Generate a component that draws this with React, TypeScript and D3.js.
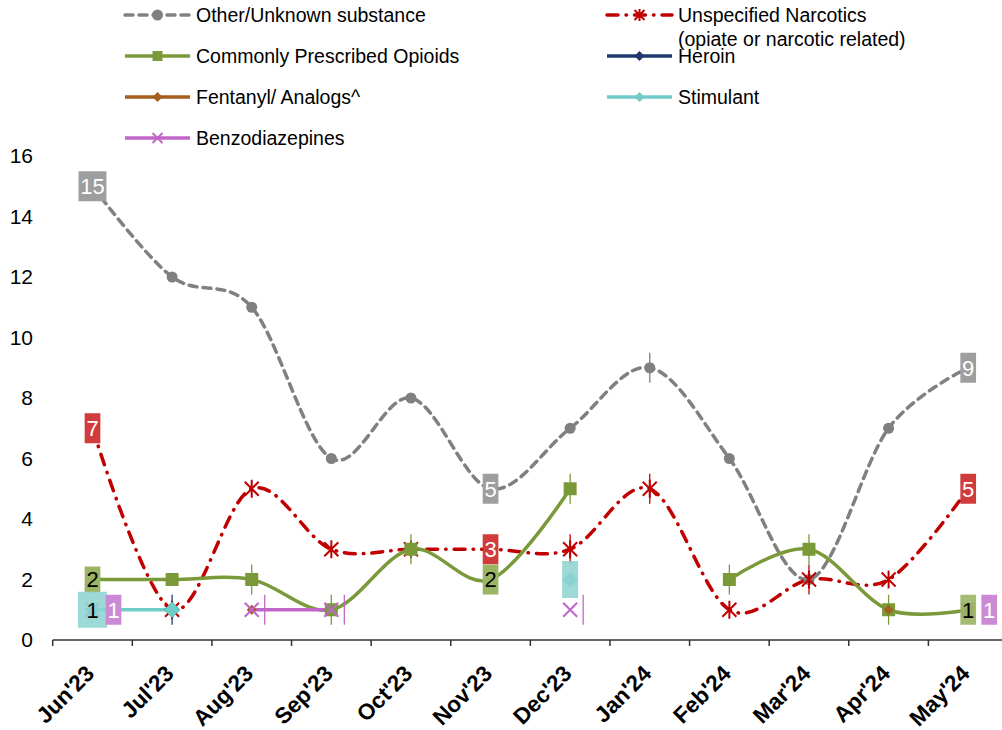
import React from 'react';
import * as d3 from 'd3';

const months = ["Jun'23", "Jul'23", "Aug'23", "Sep'23", "Oct'23", "Nov'23", "Dec'23", "Jan'24", "Feb'24", "Mar'24", "Apr'24", "May'24"];
const otherUnknown: (number | null)[] = [15, 12, 11, 6, 8, 5, 7, 9, 6, 2, 7, 9];
const unspecifiedNarcotics: (number | null)[] = [7, 1, 5, 3, 3, 3, 3, 5, 1, 2, 2, 5];
const prescribedOpioids: (number | null)[] = [2, 2, 2, 1, 3, 2, 5, null, 2, 3, 1, 1];
const heroin: (number | null)[] = [null, 1, null, null, null, null, null, null, null, null, null, null];
const fentanyl: (number | null)[] = [null, null, 1, null, null, null, null, null, null, null, 1, null];
const stimulant: (number | null)[] = [1, 1, null, null, null, null, 2, null, null, null, null, null];
const benzodiazepines: (number | null)[] = [1, null, 1, 1, null, null, 1, null, null, null, null, 1];
const yTicks = [0, 2, 4, 6, 8, 10, 12, 14, 16];

type Marker = 'circle' | 'star' | 'square' | 'diamond' | 'smallDiamond' | 'x' | 'smallX' | 'smallSquare' | 'smallStar';
interface Series {
  key: string;
  label: string[];
  values: (number | null)[];
  color: string;
  dash?: string;
  marker: Marker;
  legendMarker: Marker;
  whiskers: number[];
  whiskerDx?: number;
  legend: { x: number; y: number };
}

const series: Series[] = [
  { key: 'other', label: ['Other/Unknown substance'], values: otherUnknown, color: '#808080', dash: '8,6', marker: 'circle', legendMarker: 'circle', whiskers: [7], legend: { x: 125, y: 15 } },
  { key: 'unspec', label: ['Unspecified Narcotics', '(opiate or narcotic related)'], values: unspecifiedNarcotics, color: '#C00000', dash: '11,8,0.5,8', marker: 'star', legendMarker: 'smallStar', whiskers: [6, 7, 9], legend: { x: 607, y: 15 } },
  { key: 'opioid', label: ['Commonly Prescribed Opioids'], values: prescribedOpioids, color: '#7A9A3A', marker: 'square', legendMarker: 'smallSquare', whiskers: [2, 3, 4, 6, 8, 9, 10], legend: { x: 125, y: 56 } },
  { key: 'heroin', label: ['Heroin'], values: heroin, color: '#1F3A6E', marker: 'diamond', legendMarker: 'smallDiamond', whiskers: [1], legend: { x: 607, y: 56 } },
  { key: 'fent', label: ['Fentanyl/ Analogs^'], values: fentanyl, color: '#A65E1E', marker: 'smallDiamond', legendMarker: 'smallDiamond', whiskers: [], legend: { x: 125, y: 97 } },
  { key: 'stim', label: ['Stimulant'], values: stimulant, color: '#6FCCC6', marker: 'diamond', legendMarker: 'smallDiamond', whiskers: [], legend: { x: 607, y: 97 } },
  { key: 'benzo', label: ['Benzodiazepines'], values: benzodiazepines, color: '#C066C8', marker: 'x', legendMarker: 'smallX', whiskers: [2, 3, 6], whiskerDx: 13, legend: { x: 125, y: 138 } },
];

interface DataLabel { key: string; i: number; text: string; fill: string; textColor: string; dx?: number; w?: number; h?: number; opacity?: number; }
const dataLabels: DataLabel[] = [
  { key: 'other', i: 0, text: '15', fill: '#9E9E9E', textColor: '#fff' },
  { key: 'other', i: 5, text: '5', fill: '#9E9E9E', textColor: '#fff' },
  { key: 'other', i: 11, text: '9', fill: '#9E9E9E', textColor: '#fff' },
  { key: 'unspec', i: 0, text: '7', fill: '#D03C3C', textColor: '#fff' },
  { key: 'unspec', i: 5, text: '3', fill: '#D03C3C', textColor: '#fff' },
  { key: 'unspec', i: 11, text: '5', fill: '#D03C3C', textColor: '#fff' },
  { key: 'opioid', i: 0, text: '2', fill: '#9BB565', textColor: '#000', h: 26 },
  { key: 'opioid', i: 5, text: '2', fill: '#9BB565', textColor: '#000' },
  { key: 'opioid', i: 11, text: '1', fill: '#9BB565', textColor: '#000', opacity: 0.9 },
  { key: 'stim', i: 0, text: '1', fill: '#8ED4D1', textColor: '#000', w: 29, h: 36, opacity: 0.88 },
  { key: 'stim', i: 6, text: '', fill: '#8ED4D1', textColor: '#000', w: 16, h: 37, opacity: 0.88 },
  { key: 'benzo', i: 0, text: '1', fill: '#CB8BD4', textColor: '#fff', dx: 21 },
  { key: 'benzo', i: 11, text: '1', fill: '#CB8BD4', textColor: '#fff', dx: 21 },
];

const FONT = "'Liberation Sans', Arial, Helvetica, sans-serif";

function MarkerShape({ type, x, y, color }: { type: Marker; x: number; y: number; color: string }) {
  switch (type) {
    case 'circle':
      return <circle cx={x} cy={y} r={5.5} fill={color} />;
    case 'square':
      return <rect x={x - 6.5} y={y - 6.5} width={13} height={13} fill={color} />;
    case 'smallSquare':
      return <rect x={x - 5} y={y - 5} width={10} height={10} fill={color} />;
    case 'diamond':
      return <path d={`M${x},${y - 8}L${x + 8},${y}L${x},${y + 8}L${x - 8},${y}Z`} fill={color} />;
    case 'smallDiamond':
      return <path d={`M${x},${y - 5}L${x + 5},${y}L${x},${y + 5}L${x - 5},${y}Z`} fill={color} />;
    case 'x':
      return <path d={`M${x - 7},${y - 7}L${x + 7},${y + 7}M${x - 7},${y + 7}L${x + 7},${y - 7}`} stroke={color} strokeWidth={2} />;
    case 'smallX':
      return <path d={`M${x - 5},${y - 5}L${x + 5},${y + 5}M${x - 5},${y + 5}L${x + 5},${y - 5}`} stroke={color} strokeWidth={2} />;
    case 'star':
      return <path d={`M${x - 7},${y - 7}L${x + 7},${y + 7}M${x - 7},${y + 7}L${x + 7},${y - 7}M${x},${y - 9}L${x},${y + 9}`} stroke={color} strokeWidth={2} />;
    case 'smallStar':
      return <path d={`M${x - 5},${y - 5}L${x + 5},${y + 5}M${x - 5},${y + 5}L${x + 5},${y - 5}M${x},${y - 6}L${x},${y + 6}`} stroke={color} strokeWidth={2} />;
  }
}

export default function App() {
  const W = 1002, H = 730;
  const x = d3.scaleBand<string>().domain(months).range([52.7, 1008]).padding(0);
  const bw = x.bandwidth();
  const cx = (i: number) => (x(months[i]) as number) + bw / 2;
  const y = d3.scaleLinear().domain([0, 16]).range([640, 156]);

  const line = d3.line<number | null>()
    .defined((d) => d != null)
    .x((_, i) => cx(i))
    .y((d) => y(d as number))
    .curve(d3.curveCardinal.tension(0));

  const seriesByKey: Record<string, Series> = {};
  series.forEach((s) => (seriesByKey[s.key] = s));

  const tickXs = d3.range(months.length + 1).map((i) => 52.7 + i * bw);

  return (
    <svg width={W} height={H} style={{ position: 'absolute', left: 0, top: 0, background: '#fff' }} fontFamily={FONT}>
      {/* y tick labels */}
      {yTicks.map((t) => (
        <text key={t} x={33} y={y(t)} dy="0.35em" textAnchor="end" fontSize={21} fill="#000">{t}</text>
      ))}
      {/* x axis */}
      <line x1={52.7} x2={1008} y1={640} y2={640} stroke="#333" strokeWidth={1.5} />
      {tickXs.map((tx, i) => (
        <line key={i} x1={tx} x2={tx} y1={640} y2={646} stroke="#333" strokeWidth={1.5} />
      ))}
      {months.map((m, i) => (
        <text key={m} transform={`translate(${cx(i) + 3},675) rotate(-45)`} textAnchor="end" fontSize={22.5} fontWeight="bold" fill="#000">{m}</text>
      ))}

      {/* series lines */}
      {series.map((s) => (
        <path key={s.key} d={line(s.values) || ''} fill="none" stroke={s.color} strokeWidth={3.5}
          strokeDasharray={s.dash} strokeLinecap={s.dash ? 'round' : 'butt'} />
      ))}
      {/* whiskers and markers */}
      {series.map((s) => (
        <g key={s.key + 'm'}>
          {s.whiskers.map((i) => s.values[i] != null && (
            <line key={'w' + i} x1={cx(i) + (s.whiskerDx || 0)} x2={cx(i) + (s.whiskerDx || 0)}
              y1={y(s.values[i] as number) - 15} y2={y(s.values[i] as number) + 15}
              stroke={s.color} strokeWidth={1.3} />
          ))}
          {s.values.map((v, i) => v != null && (
            <MarkerShape key={i} type={s.marker} x={cx(i)} y={y(v)} color={s.color} />
          ))}
        </g>
      ))}

      {/* data labels */}
      {dataLabels.map((l, k) => {
        const s = seriesByKey[l.key];
        const v = s.values[l.i] as number;
        const px = cx(l.i) + (l.dx || 0);
        const py = y(v);
        const w = l.w ?? (l.text.length * 12.2 + 3.5);
        const h = l.h ?? 30;
        return (
          <g key={k}>
            <rect x={px - w / 2} y={py - h / 2} width={w} height={h} fill={l.fill} opacity={l.opacity ?? 1} />
            <text x={px} y={py} dy="0.36em" textAnchor="middle" fontSize={22} fill={l.textColor}>{l.text}</text>
          </g>
        );
      })}

      {/* legend */}
      {series.map((s) => (
        <g key={s.key + 'l'}>
          <line x1={s.legend.x} x2={s.legend.x + 65} y1={s.legend.y} y2={s.legend.y} stroke={s.color} strokeWidth={3.5}
            strokeDasharray={s.dash} strokeLinecap={s.dash ? 'round' : 'butt'} />
          <MarkerShape type={s.legendMarker} x={s.legend.x + 32.5} y={s.legend.y} color={s.color} />
          {s.label.map((t, j) => (
            <text key={j} x={s.legend.x + 71} y={s.legend.y + j * 24} dy="0.35em" fontSize={19.5} fill="#000">{t}</text>
          ))}
        </g>
      ))}
    </svg>
  );
}
